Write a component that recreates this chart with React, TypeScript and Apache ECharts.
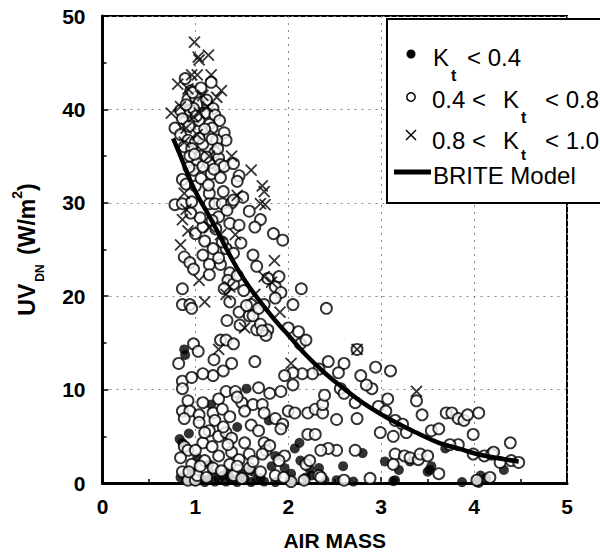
import React, { useEffect, useRef } from "react";
import * as echarts from "echarts";

const FONT = "'Liberation Sans', Arial, Helvetica, sans-serif";

const xTickValues = [0, 1, 2, 3, 4, 5];
const yTickValues = [0, 10, 20, 30, 40, 50];

const seriesNames = ["Kt < 0.4", "0.4 < Kt < 0.8", "0.8 < Kt < 1.0", "BRITE Model"];

// Kt < 0.4 (filled dots)
const lowKt: number[][] = [
  [0.88, 14.3], [0.89, 13.7], [1.55, 10.1], [1.17, 8.4], [1.79, 6.7], [1.45, 6.0], [0.83, 4.7], [0.93, 5.3],
  [0.86, 4.3], [2.12, 4.3], [2.07, 3.7], [1.86, 2.9], [2.8, 3.2], [3.69, 3.7], [3.04, 2.3], [3.31, 2.3],
  [3.19, 1.4], [3.52, 1.4], [3.54, 1.8], [4.32, 1.4], [2.59, 1.8], [2.23, 1.5], [2.33, 1.6], [2.13, 2.4],
  [2.03, 1.0], [1.96, 1.6], [1.82, 1.8], [1.62, 1.2], [1.49, 1.0], [1.29, 0.8], [1.15, 2.0], [1.02, 2.7],
  [0.96, 1.2], [0.84, 0.6], [1.13, 0.3], [1.21, 0.15], [1.33, 0.15], [1.41, 0.3], [1.53, 0.5], [1.66, 0.3],
  [1.74, 0.15], [1.86, 0.1], [2.39, 0.3], [2.52, 0.3], [2.7, 0.15], [3.13, 0.2], [3.87, 0.1], [4.05, 0.0],
  [4.07, 0.8], [4.13, 0.5], [2.19, 0.6], [2.25, 0.8], [1.37, 0.6], [1.06, 0.5], [3.5, 1.2], [4.03, 0.1],
  [1.58, 1.4], [1.1, 0.1], [1.25, 0.4], [1.45, 0.1], [1.6, 0.1], [1.7, 0.5], [1.0, 0.2], [1.18, 1.0],
  [0.9, 0.3], [1.35, 1.2], [3.15, 0.3], [2.02, 0.2],
];

// 0.4 < Kt < 0.8 (open circles)
const midKt: number[][] = [
  [0.89, 43.3], [0.95, 42.0], [1.17, 42.9], [0.92, 41.1], [1.0, 41.3], [1.04, 40.7], [1.13, 40.5], [1.19, 40.1],
  [0.84, 39.9], [0.94, 39.9], [0.98, 40.1], [1.1, 39.6], [1.21, 39.4], [1.26, 38.8], [0.78, 38.0], [0.88, 38.6],
  [0.96, 38.6], [1.04, 38.8], [1.15, 38.4], [1.18, 38.0], [1.31, 37.5], [1.33, 36.7], [0.84, 37.3], [0.92, 36.7],
  [1.0, 36.5], [1.08, 36.3], [1.15, 37.1], [1.23, 36.7], [0.88, 36.0], [0.96, 35.8], [1.06, 35.0], [1.21, 35.4],
  [1.25, 34.8], [0.94, 35.0], [1.02, 34.2], [1.15, 34.2], [1.27, 34.1], [1.31, 33.9], [0.98, 33.5], [1.08, 33.9],
  [1.17, 33.1], [1.27, 32.7], [1.41, 34.2], [1.47, 32.9], [1.45, 32.3], [0.86, 32.5], [0.9, 32.0], [1.0, 31.8],
  [1.15, 31.0], [1.51, 30.6], [0.78, 29.8], [0.86, 29.9], [0.96, 30.1], [1.15, 29.9], [1.21, 29.9], [1.29, 29.9],
  [1.39, 30.0], [1.25, 28.5], [1.37, 27.8], [1.47, 27.6], [1.41, 30.3], [1.58, 29.1], [1.7, 28.2], [1.64, 27.4],
  [1.84, 26.7], [1.94, 26.0], [1.33, 25.1], [1.49, 25.7], [1.0, 26.7], [1.08, 27.4], [1.1, 25.9], [1.19, 25.1],
  [0.88, 24.2], [0.94, 23.6], [0.98, 22.9], [1.08, 24.4], [1.15, 23.4], [1.15, 22.3], [1.27, 23.4], [1.62, 24.4],
  [1.66, 23.2], [1.37, 22.5], [1.35, 21.7], [1.41, 21.3], [1.31, 20.8], [1.37, 19.4], [0.86, 20.8], [0.86, 19.1],
  [0.94, 19.1], [0.96, 18.7], [1.47, 18.3], [1.58, 17.9], [1.6, 19.1], [1.74, 19.1], [1.78, 21.9], [1.86, 21.0],
  [1.92, 20.4], [1.9, 22.1], [1.86, 19.8], [2.14, 20.8], [2.05, 19.1], [2.41, 18.7], [1.62, 17.9], [1.66, 16.4],
  [1.7, 17.0], [1.78, 16.4], [1.76, 15.8], [2.0, 16.6], [2.11, 16.2], [2.13, 14.9], [2.19, 15.3], [1.34, 17.4],
  [1.27, 15.3], [1.33, 15.3], [1.41, 14.9], [0.98, 14.9], [1.03, 14.1], [0.82, 12.8], [1.39, 12.8], [1.64, 13.0],
  [1.19, 11.5], [0.86, 10.9], [0.96, 11.3], [0.86, 10.1], [1.33, 9.8], [1.43, 9.8], [1.8, 9.6], [1.92, 9.8],
  [0.92, 8.8], [1.08, 8.6], [1.25, 9.0], [1.5, 8.6], [1.62, 8.4], [1.72, 8.4], [0.86, 7.7], [0.94, 7.7],
  [1.04, 7.3], [1.19, 7.5], [1.29, 7.9], [1.53, 7.7], [1.74, 7.5], [1.86, 6.9], [1.94, 6.3], [2.0, 7.7],
  [2.07, 7.5], [1.04, 6.5], [1.21, 6.7], [1.37, 7.1], [1.6, 6.2], [1.68, 5.6], [1.92, 5.8], [1.15, 5.6],
  [1.25, 5.0], [1.33, 5.4], [1.39, 4.8], [1.53, 4.3], [1.74, 4.3], [1.76, 3.5], [0.88, 3.9], [0.92, 3.5],
  [1.08, 4.3], [1.39, 3.3], [1.47, 2.5], [1.58, 3.1], [1.72, 3.1], [1.96, 2.9], [0.84, 2.7], [0.96, 2.0],
  [1.0, 3.5], [1.1, 2.4], [1.19, 1.6], [1.25, 2.9], [1.37, 2.0], [1.58, 1.6], [1.9, 2.4], [0.86, 1.2],
  [0.92, 0.3], [1.0, 0.3], [1.02, 0.8], [1.41, 0.8], [1.86, 0.8], [2.03, 0.15], [2.17, 0.3], [2.19, 2.0],
  [2.21, 5.2], [2.29, 5.2], [2.21, 7.5], [2.29, 7.9], [2.37, 7.5], [2.37, 8.4], [2.52, 6.8], [2.39, 9.4],
  [2.56, 10.1], [2.6, 9.6], [2.72, 8.6], [2.74, 6.9], [2.9, 10.1], [2.84, 10.5], [2.78, 11.5], [2.6, 12.8],
  [2.54, 11.8], [2.43, 13.0], [2.33, 12.2], [2.26, 11.7], [2.15, 11.7], [2.05, 11.8], [2.05, 10.5], [1.96, 11.5],
  [2.94, 12.4], [3.1, 12.0], [3.07, 9.0], [2.97, 8.2], [3.05, 7.7], [3.15, 6.7], [2.99, 5.4], [3.13, 5.0],
  [3.23, 6.3], [3.27, 5.4], [3.38, 8.8], [3.44, 7.3], [3.54, 5.6], [3.62, 5.8], [3.7, 7.5], [3.76, 7.5],
  [3.83, 6.9], [3.89, 6.7], [3.93, 7.3], [4.05, 7.5], [3.99, 5.2], [3.83, 4.1], [3.15, 3.1], [3.25, 2.9],
  [3.31, 2.7], [3.4, 2.5], [3.42, 3.1], [3.5, 2.9], [3.62, 1.0], [3.13, 2.0], [2.72, 3.5], [2.52, 3.5],
  [2.43, 3.7], [2.35, 3.5], [2.23, 2.4], [2.33, 0.8], [2.35, 0.6], [2.6, 0.3], [2.88, 0.5], [3.99, 3.1],
  [4.11, 2.9], [4.19, 3.1], [4.21, 3.3], [4.28, 2.2], [4.39, 4.3], [4.4, 2.4], [4.48, 2.2], [4.17, 0.6],
  [4.03, 0.3], [3.74, 4.1], [2.74, 14.3],
  [0.9, 40.5], [0.97, 41.8], [1.06, 42.3], [1.12, 41.0], [0.86, 39.0], [0.93, 38.2], [1.01, 39.3], [1.1, 37.9],
  [1.18, 36.8], [1.24, 35.8], [1.04, 36.9], [0.99, 35.2], [1.12, 34.9], [1.2, 33.6], [0.93, 33.8], [1.06, 32.6],
  [1.14, 31.9], [1.3, 31.2], [1.34, 29.2], [1.18, 28.1], [1.05, 28.4], [0.95, 28.9], [1.22, 27.2], [1.29, 25.8],
  [1.41, 24.6], [1.25, 24.1], [1.45, 22.2], [1.52, 20.6], [1.55, 19.0], [1.48, 16.9], [1.68, 18.7], [1.72, 16.3],
  [0.93, 1.2], [1.05, 1.8], [1.12, 0.6], [1.18, 3.9], [1.28, 1.3], [1.35, 4.1], [1.45, 1.8], [1.5, 0.5],
  [1.62, 2.3], [1.7, 1.2], [1.8, 4.0], [1.95, 0.6], [1.3, 6.0], [1.1, 5.4], [0.88, 6.9], [1.45, 9.2],
  [1.68, 10.2], [1.2, 13.2], [1.3, 12.0], [1.08, 11.7],
];

// 0.8 < Kt < 1.0 (crosses)
const highKt: number[][] = [
  [0.99, 47.2], [1.03, 45.6], [1.04, 45.3], [1.14, 45.8], [0.81, 42.7], [0.96, 43.7], [1.02, 43.7], [1.17, 43.7],
  [1.28, 42.0], [1.23, 41.3], [0.74, 39.6], [0.84, 40.3], [1.08, 41.5], [0.9, 38.0], [1.04, 39.6], [1.13, 40.3],
  [1.39, 35.0], [1.6, 33.5], [1.72, 31.8], [1.74, 31.2], [1.7, 29.9], [1.75, 29.8], [0.86, 28.2], [0.84, 25.5],
  [0.92, 27.0], [0.9, 29.3], [0.88, 31.0], [1.1, 19.4], [1.04, 21.7], [1.15, 27.4], [1.27, 26.6], [1.43, 26.6],
  [1.33, 20.2], [1.37, 21.0], [1.53, 16.6], [1.64, 20.2], [1.85, 23.8], [1.91, 18.3], [1.74, 22.1], [1.82, 21.5],
  [1.25, 14.3], [2.03, 12.8], [2.74, 14.3], [3.38, 9.8], [0.92, 42.2], [0.98, 39.2], [1.02, 37.3], [1.15, 35.0],
  [1.45, 30.8], [0.88, 36.5],
];

// BRITE model curve
const modelAirMass = [0.76, 0.84, 0.9, 1.0, 1.13, 1.25, 1.37, 1.53, 1.7, 1.86, 2.03, 2.19, 2.39, 2.6, 2.8, 3.01, 3.21, 3.42, 3.62, 3.83, 4.03, 4.23, 4.48];
const modelUV = [36.9, 35.0, 33.5, 31.2, 28.9, 26.7, 24.4, 21.7, 19.4, 17.4, 15.5, 13.7, 11.8, 10.1, 8.6, 7.3, 6.2, 5.2, 4.3, 3.7, 3.1, 2.7, 2.3];

const crossPath = "path://M0,0L10,10M10,0L0,10";

function txt(text: string, x: number, y: number, size: number, weight = "normal") {
  return {
    type: "text",
    x,
    y,
    z: 101,
    style: {
      text,
      fontSize: size,
      fontWeight: weight,
      fontFamily: FONT,
      fill: "#000",
      verticalAlign: "middle",
      align: "left",
    },
  };
}

export default function App() {
  const ref = useRef<HTMLDivElement>(null);
  useEffect(() => {
    const chart = echarts.init(ref.current!, null, { renderer: "svg" });
    const option: any = {
      animation: false,
      backgroundColor: "#fff",
      grid: {
        left: 102,
        right: 33,
        top: 16,
        bottom: 73,
        show: true,
        borderColor: "#000",
        borderWidth: 2,
      },
      xAxis: {
        type: "value",
        min: xTickValues[0],
        max: xTickValues[xTickValues.length - 1],
        interval: 1,
        axisLine: { show: true, onZero: false, lineStyle: { color: "#000", width: 3 } },
        axisTick: { show: true, inside: true, length: 6, lineStyle: { color: "#000", width: 1.5 } },
        minorTick: { show: true, splitNumber: 2, length: 4, lineStyle: { color: "#000", width: 1.5 } },
        splitLine: { show: true, lineStyle: { color: "#888", width: 1, type: [2, 5] } },
        axisLabel: { fontSize: 21, fontWeight: "bold", color: "#000", margin: 13, fontFamily: FONT },
        name: "AIR MASS",
        nameLocation: "middle",
        nameGap: 47,
        nameTextStyle: { fontSize: 21, fontWeight: "bold", color: "#000", fontFamily: FONT },
      },
      yAxis: {
        type: "value",
        min: yTickValues[0],
        max: yTickValues[yTickValues.length - 1],
        interval: 10,
        axisLine: { show: true, onZero: false, lineStyle: { color: "#000", width: 3 } },
        axisTick: { show: true, inside: true, length: 6, lineStyle: { color: "#000", width: 1.5 } },
        minorTick: { show: true, splitNumber: 2, length: 4, lineStyle: { color: "#000", width: 1.5 } },
        splitLine: { show: true, lineStyle: { color: "#888", width: 1, type: [2, 5] } },
        axisLabel: { fontSize: 21, fontWeight: "bold", color: "#000", margin: 17, fontFamily: FONT },
        name: "UV{sub|DN} (W/m{sup|2})",
        nameLocation: "middle",
        nameGap: 64,
        nameTextStyle: {
          fontSize: 23,
          fontWeight: "bold",
          color: "#000",
          fontFamily: FONT,
          rich: {
            sub: { fontSize: 12, fontWeight: "bold", fontFamily: FONT, color: "#000", lineHeight: 13, padding: [26, 3, 0, 2] },
            sup: { fontSize: 14, fontWeight: "bold", fontFamily: FONT, color: "#000", lineHeight: 15, padding: [0, 0, 20, 0] },
          },
        },
      },
      series: [
        {
          name: seriesNames[0],
          type: "scatter",
          data: lowKt,
          symbol: "circle",
          symbolSize: 10,
          itemStyle: { color: "#000" },
          z: 2,
        },
        {
          name: seriesNames[1],
          type: "scatter",
          data: midKt,
          symbol: "circle",
          symbolSize: 11,
          itemStyle: { color: "#fff", borderColor: "#000", borderWidth: 1.9 },
          z: 3,
        },
        {
          name: seriesNames[2],
          type: "scatter",
          data: highKt,
          symbol: crossPath,
          symbolSize: 11,
          itemStyle: { color: "rgba(0,0,0,0)", borderColor: "#000", borderWidth: 1.8 },
          z: 4,
        },
        {
          name: seriesNames[3],
          type: "line",
          data: modelAirMass.map((x, i) => [x, modelUV[i]]),
          smooth: true,
          showSymbol: false,
          symbol: "none",
          lineStyle: { color: "#000", width: 4.5 },
          z: 5,
        },
      ],
      graphic: [
        {
          type: "rect",
          z: 100,
          shape: { x: 387, y: 19, width: 240, height: 184 },
          style: { fill: "#fff", stroke: "#000", lineWidth: 2 },
        },
        { type: "circle", z: 101, shape: { cx: 411, cy: 54, r: 4.5 }, style: { fill: "#000" } },
        { type: "circle", z: 101, shape: { cx: 411, cy: 97, r: 4.2 }, style: { fill: "#fff", stroke: "#000", lineWidth: 1.5 } },
        { type: "line", z: 101, shape: { x1: 406, y1: 130, x2: 416, y2: 140 }, style: { stroke: "#000", lineWidth: 1.5 } },
        { type: "line", z: 101, shape: { x1: 416, y1: 130, x2: 406, y2: 140 }, style: { stroke: "#000", lineWidth: 1.5 } },
        { type: "line", z: 101, shape: { x1: 394, y1: 172, x2: 431, y2: 172 }, style: { stroke: "#000", lineWidth: 5 } },
        // row 1: K_t < 0.4
        txt("K", 433, 57, 24),
        txt("t", 451, 75, 16, "bold"),
        txt("< 0.4", 467, 57, 24),
        // row 2: 0.4 < K_t < 0.8
        txt("0.4 <", 432, 99, 24),
        txt("K", 503, 99, 24),
        txt("t", 521, 117, 16, "bold"),
        txt("< 0.8", 545, 99, 24),
        // row 3: 0.8 < K_t < 1.0
        txt("0.8 <", 432, 140, 24),
        txt("K", 503, 140, 24),
        txt("t", 521, 154, 15, "bold"),
        txt("< 1.0", 545, 140, 24),
        // row 4
        txt("BRITE Model", 433, 175, 24),
      ],
    };
    chart.setOption(option);
    return () => chart.dispose();
  }, []);
  return (
    <div
      ref={ref}
      style={{ position: "fixed", left: 0, top: 0, width: 600, height: 556, background: "#fff" }}
    />
  );
}
